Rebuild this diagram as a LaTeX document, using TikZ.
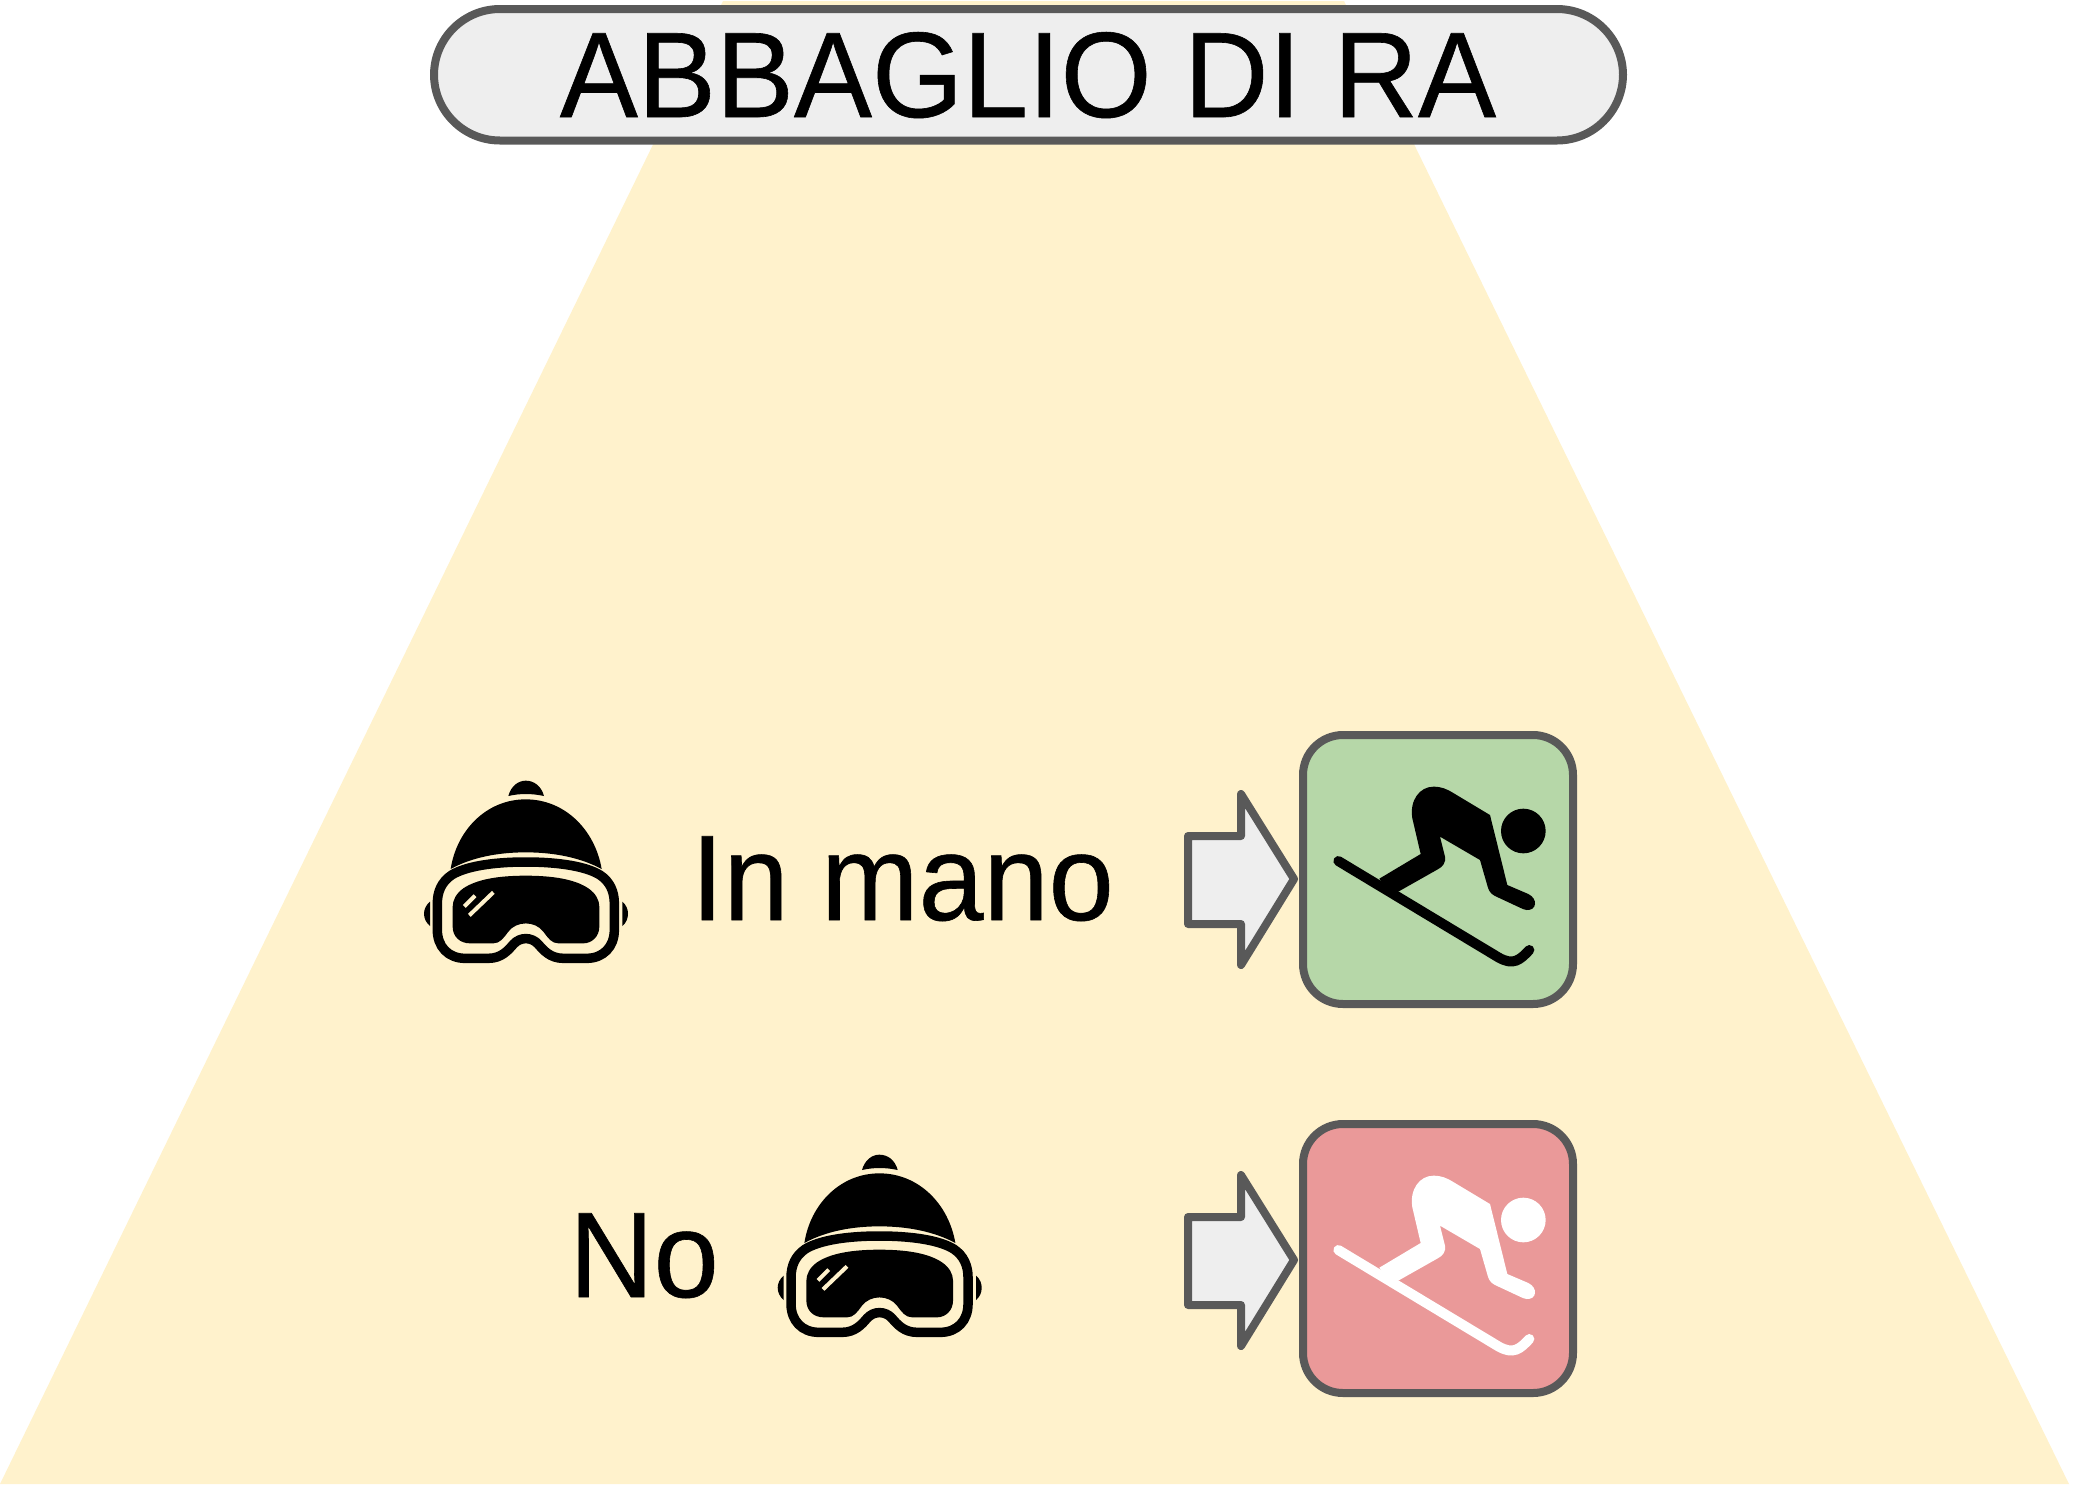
\documentclass[tikz,border=0pt]{standalone}
\usepackage{graphicx}
\usepackage{fontspec}
\setmainfont{Liberation Sans}
\newfontfamily\bigfont[FakeBold=0.5]{Liberation Sans}
\definecolor{creamc}{HTML}{FFF2CC}
\definecolor{greyc}{HTML}{595959}
\definecolor{lightc}{HTML}{EEEEEE}
\definecolor{greenc}{HTML}{B6D7A8}
\definecolor{redc}{HTML}{EA9999}
\newcommand{\bigtxt}[1]{\scalebox{1}[1.04]{#1}}
\tikzset{
  bigtext/.style={font=\bigfont\fontsize{117}{117}\selectfont, inner sep=0pt, outer sep=0pt, anchor=base, text=black},
  titlebox/.style={draw=greyc, fill=lightc, line width=8pt, rounded corners=66pt, minimum width=1189pt, minimum height=131.5pt, inner sep=0pt, outer sep=0pt},
  resultbox/.style={draw=greyc, line width=8pt, rounded corners=40pt, minimum width=270pt, minimum height=269pt, inner sep=0pt, outer sep=0pt},
  pics/blockarrow/.style={code={
    \draw[draw=greyc, fill=lightc, line width=8pt, line join=round]
      (1188,836) -- (1241,836) -- (1241,794) -- (1294,879) -- (1241,965) -- (1241,924) -- (1188,924) -- cycle;
  }},
  pics/skier/.style={code={
    \begin{scope}[x=0.33333pt,y=-0.33333pt]
      \fill[#1] (1060,333) circle[radius=67];
      \draw[#1, line width=10pt, line cap=round] (505,423) -- (985,712) .. controls (1030,738) and (1050,720) .. (1078,690);
      \fill[#1] (628,476) -- (752,402) -- (727,295) .. controls (718,240) and (750,200) .. (790,200)
        .. controls (815,200) and (830,207) .. (850,219) -- (960,285) -- (1012,495) -- (1075,522)
        .. controls (1105,537) and (1100,572) .. (1070,570) .. controls (1062,569) and (1056,566) .. (1050,563)
        -- (975,528) .. controls (960,520) and (957,512) .. (953,500) -- (930,420) -- (810,350) -- (825,410)
        .. controls (828,428) and (818,440) .. (805,447) -- (690,512) -- (660,525) -- cycle;
    \end{scope}
  }},
  pics/goggles/.style={code={
    \begin{scope}[x=0.33333pt,y=-0.33333pt]
      \fill[black] (295,108) .. controls (303,78) and (325,62) .. (347,62) .. controls (372,62) and (394,78) .. (402,108)
        .. controls (365,100) and (330,100) .. (295,108) -- cycle;
      \fill[black] (122,327) .. controls (140,210) and (230,118) .. (347,118) .. controls (465,118) and (555,210) .. (575,327)
        .. controls (510,292) and (430,277) .. (347,277) .. controls (265,277) and (185,292) .. (122,327) -- cycle;
      \draw[black, line width=9.5pt] (347,306) .. controls (450,306) and (530,320) .. (570,345)
        .. controls (600,365) and (613,395) .. (613,430) -- (613,510)
        .. controls (613,560) and (580,595) .. (530,595) -- (460,595)
        .. controls (420,595) and (400,570) .. (385,553) .. controls (365,530) and (330,530) .. (310,553)
        .. controls (295,570) and (275,595) .. (235,595) -- (165,595)
        .. controls (115,595) and (82,560) .. (82,510) -- (82,430)
        .. controls (82,395) and (95,365) .. (125,345) .. controls (165,320) and (245,306) .. (347,306) -- cycle;
      \fill[black] (347,347) .. controls (430,347) and (495,358) .. (535,385)
        .. controls (557,400) and (568,420) .. (568,440) -- (568,500)
        .. controls (568,530) and (545,550) .. (520,550) -- (445,550)
        .. controls (425,550) and (415,535) .. (400,515) .. controls (375,482) and (320,482) .. (295,515)
        .. controls (280,535) and (270,550) .. (250,550) -- (180,550)
        .. controls (150,550) and (128,530) .. (128,500) -- (128,440)
        .. controls (128,420) and (139,400) .. (160,385) .. controls (200,358) and (265,347) .. (347,347) -- cycle;
      \draw[creamc, line width=4pt] (163,439) -- (195,407);
      \draw[creamc, line width=4pt] (178,466) -- (250,397);
      \fill[black] (60,425) .. controls (48,435) and (42,448) .. (42,461) .. controls (42,475) and (48,488) .. (60,498) -- cycle;
      \fill[black] (637,425) .. controls (649,435) and (654,448) .. (654,461) .. controls (654,475) and (649,488) .. (637,498) -- cycle;
    \end{scope}
  }}
}
\begin{document}
\begin{tikzpicture}[x=1pt,y=-1pt]
\useasboundingbox (0,0) rectangle (2075,1484);
\fill[creamc] (0,1484) -- (723,1) -- (1344,1) -- (2069,1484) -- cycle;
\node[titlebox] (title) at (1028.5,74.75) {};
\node[bigtext] (titletext) at (1028,117) {\bigtxt{ABBAGLIO DI RA}};

\pic at (410,760) {goggles};
\node[bigtext] (inmano) at (902.5,920) {\bigtxt{In mano}};
\pic at (0,0) {blockarrow};
\node[resultbox, fill=greenc] (okbox) at (1438,869.5) {};
\pic at (1170,720) {skier=black};

\node[bigtext] (no) at (644,1297) {\bigtxt{No}};
\pic at (763.7,1134) {goggles};
\pic at (0,381) {blockarrow};
\node[resultbox, fill=redc] (nobox) at (1438,1258.5) {};
\pic at (1170,1109) {skier=white};
\end{tikzpicture}
\end{document}
